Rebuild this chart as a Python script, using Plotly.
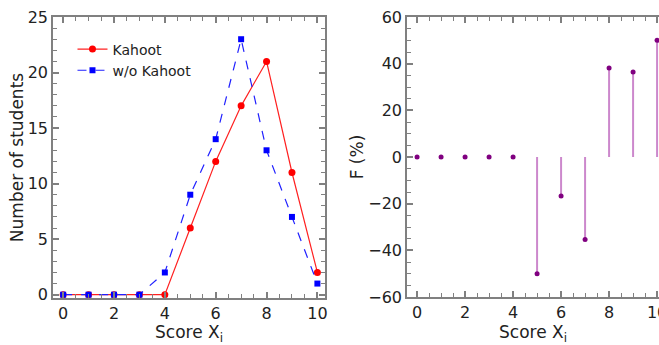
import plotly.graph_objects as go

scores = [0, 1, 2, 3, 4, 5, 6, 7, 8, 9, 10]
kahoot = [0, 0, 0, 0, 0, 6, 12, 17, 21, 11, 2]
wo_kahoot = [0, 0, 0, 0, 2, 9, 14, 23, 13, 7, 1]
f_percent = [0, 0, 0, 0, 0, -50, -16.7, -35.3, 38.1, 36.4, 50]

FONT = "DejaVu Sans"
AX = "#808080"

fig = go.Figure()
fig.add_trace(go.Scatter(x=scores, y=kahoot, mode="lines+markers", name="Kahoot",
                         line=dict(color="#ff2020", width=1.2),
                         marker=dict(color="#ff0000", size=7, symbol="circle"),
                         xaxis="x", yaxis="y"))
fig.add_trace(go.Scatter(x=scores, y=wo_kahoot, mode="lines+markers", name="w/o Kahoot",
                         line=dict(color="#2020ff", width=1.2, dash="dash"),
                         marker=dict(color="#0000ff", size=6, symbol="square"),
                         xaxis="x", yaxis="y"))

# stems for F
sx, sy = [], []
for x, v in zip(scores, f_percent):
    if v != 0:
        sx += [x, x, None]
        sy += [0, v, None]
fig.add_trace(go.Scatter(x=sx, y=sy, mode="lines", line=dict(color="#cc88cc", width=2),
                         showlegend=False, xaxis="x2", yaxis="y2", hoverinfo="skip"))
fig.add_trace(go.Scatter(x=scores, y=f_percent, mode="markers",
                         marker=dict(color="#800080", size=5), showlegend=False,
                         xaxis="x2", yaxis="y2", cliponaxis=False))

common = dict(showline=True, linecolor=AX, linewidth=1.5, ticks="inside", tickcolor=AX,
              tickwidth=1.5, ticklen=6, showgrid=False, zeroline=False, automargin=False,
              ticklabeloverflow="allow",
              tickfont=dict(family=FONT, size=16, color="#222"))

fig.update_layout(
    width=659, height=345,
    margin=dict(l=0, r=0, t=0, b=0),
    paper_bgcolor="white", plot_bgcolor="white",
    font=dict(family=FONT, color="#222"),
    xaxis=dict(domain=[0.0804, 0.4932], range=[-0.4, 10.3], dtick=2, tick0=0,
               mirror="ticks", anchor="y",
               minor=dict(dtick=0.5, ticks="inside", ticklen=4, tickcolor=AX, tickwidth=1.2),
               title=dict(text="Score X<sub>i</sub>", font=dict(family=FONT, size=17), standoff=5),
               **common),
    yaxis=dict(domain=[0.1362, 0.9507], range=[-0.3, 25], dtick=5, tick0=0,
               mirror="ticks", anchor="x",
               minor=dict(dtick=1, ticks="inside", ticklen=4, tickcolor=AX, tickwidth=1.2),
               title=dict(text="Number of students", font=dict(family=FONT, size=17), standoff=0),
               **common),
    xaxis2=dict(domain=[0.6176, 1.0], range=[-0.42, 10.08], dtick=2, tick0=0,
                mirror="ticks", anchor="y2",
                minor=dict(dtick=0.5, ticks="inside", ticklen=4, tickcolor=AX, tickwidth=1.2),
                title=dict(text="Score X<sub>i</sub>", font=dict(family=FONT, size=17), standoff=5),
                **common),
    yaxis2=dict(domain=[0.1391, 0.9507], range=[-60, 60], dtick=20, tick0=0,
                mirror=False, anchor="x2",
                minor=dict(dtick=5, ticks="inside", ticklen=4, tickcolor=AX, tickwidth=1.2),
                title=dict(text="F (%)", font=dict(family=FONT, size=17), standoff=0),
                **common),
    legend=dict(x=0.110, y=0.903, xanchor="left", yanchor="top", bgcolor="rgba(0,0,0,0)",
                font=dict(family=FONT, size=14, color="#222"), itemwidth=30,
                tracegroupgap=0),
)

fig.write_html("out.html", config={"displayModeBar": False},
               post_script="document.body.style.margin='0';document.body.style.overflow='hidden';")
